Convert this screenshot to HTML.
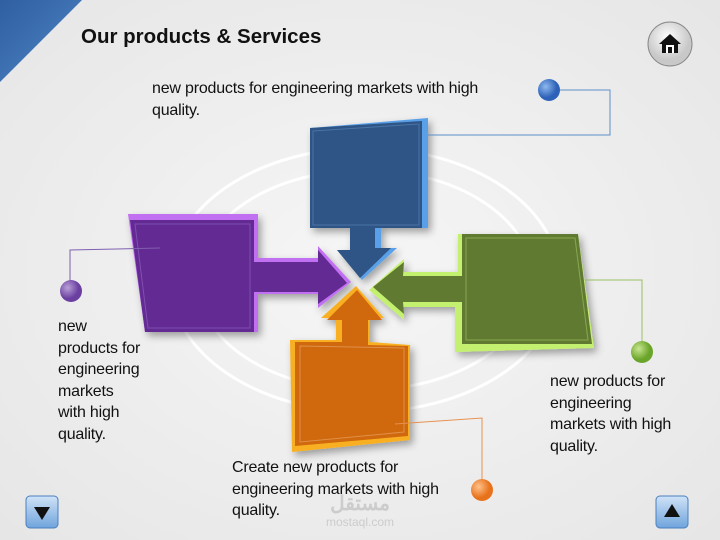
<!DOCTYPE html>
<html><head><meta charset="utf-8"><style>
body{margin:0;width:720px;height:540px;overflow:hidden;background:#efefef;font-family:"Liberation Sans",sans-serif}
.t{position:absolute;font-size:16px;line-height:21.5px;color:#111;letter-spacing:-0.2px}
</style></head><body>
<svg width="720" height="540" style="position:absolute;left:0;top:0">
<defs>
<radialGradient id="bg" cx="50%" cy="50%" r="70%"><stop offset="0" stop-color="#f6f6f6"/><stop offset="1" stop-color="#e6e6e6"/></radialGradient>
<linearGradient id="tri" x1="0" y1="0" x2="1" y2="1"><stop offset="0" stop-color="#2f5fa0"/><stop offset="1" stop-color="#4f86c6"/></linearGradient>
<radialGradient id="bb" cx="35%" cy="35%"><stop offset="0" stop-color="#8fb8ee"/><stop offset="1" stop-color="#2d62b8"/></radialGradient>
<radialGradient id="pb" cx="35%" cy="35%"><stop offset="0" stop-color="#b9a0d8"/><stop offset="1" stop-color="#6a3fa0"/></radialGradient>
<radialGradient id="gb" cx="35%" cy="35%"><stop offset="0" stop-color="#c8e690"/><stop offset="1" stop-color="#6aa52a"/></radialGradient>
<radialGradient id="ob" cx="35%" cy="35%"><stop offset="0" stop-color="#ffc28a"/><stop offset="1" stop-color="#e8721c"/></radialGradient>
<radialGradient id="hb" cx="45%" cy="35%"><stop offset="0" stop-color="#ffffff"/><stop offset="1" stop-color="#c8c8c8"/></radialGradient>
<linearGradient id="nb" x1="0" y1="0" x2="0" y2="1"><stop offset="0" stop-color="#cfe3f7"/><stop offset="1" stop-color="#6fa4dc"/></linearGradient>
<filter id="sh" x="-20%" y="-20%" width="140%" height="140%"><feDropShadow dx="3" dy="4" stdDeviation="4" flood-opacity="0.35"/></filter>
</defs>
<rect width="720" height="540" fill="url(#bg)"/>
<polygon points="0,0 82,0 0,82" fill="url(#tri)"/>
<ellipse cx="365" cy="280" rx="195" ry="132" fill="none" stroke="#fff" stroke-width="3"/>
<ellipse cx="365" cy="280" rx="168" ry="110" fill="none" stroke="#fff" stroke-width="3"/>
<!-- blue -->
<g filter="url(#sh)">
<polygon points="310,128 428,118 428,228 381,228 381,248 397,248 362,280 337,250 350,250 350,228 310,228" fill="#5aa0e8"/>
<polygon points="310,128 422,121 422,228 375,228 375,248 391,248 360,278 337,250 350,250 350,228 310,228" fill="#2f5585"/>
<polygon points="313,131 419,124 419,225 313,225" fill="none" stroke="#4a74a6" stroke-width="1"/>
</g>
<!-- purple -->
<g filter="url(#sh)">
<polygon points="128,214 258,214 258,258 318,258 318,246 351,282 318,308 318,294 258,294 258,332 145,332" fill="#c070f0"/>
<polygon points="130,220 254,220 254,262 318,262 318,250 347,283 318,304 318,292 254,292 254,332 145,332" fill="#622a92"/>
<polygon points="135,224 250,224 250,328 148,328" fill="none" stroke="#8050b0" stroke-width="1"/>
</g>
<!-- green -->
<g filter="url(#sh)">
<polygon points="458,234 578,234 594,348 455,352 455,307 403,307 404,320 369,290 404,259 403,272 458,272" fill="#c4f070"/>
<polygon points="462,234 578,234 592,344 462,344 462,302 403,302 404,314 373,287 404,262 403,276 462,276" fill="#607a30"/>
<polygon points="466,238 575,238 588,340 466,340" fill="none" stroke="#88a850" stroke-width="1"/>
</g>
<!-- orange -->
<g filter="url(#sh)">
<polygon points="290,340 336,340 336,318 321,318 356,286 384,318 370,318 370,342 410,345 410,440 292,452" fill="#f8b020"/>
<polygon points="295,342 342,342 342,320 327,320 357,290 382,320 368,320 368,345 408,346 408,436 295,446" fill="#d0680e"/>
<polygon points="300,346 404,348 404,432 300,442" fill="none" stroke="#e0904a" stroke-width="1"/>
</g>
<!-- connectors -->
<polyline points="560,90 610,90 610,135 428,135" fill="none" stroke="#5b8fc8" stroke-width="1"/>
<polyline points="70,290 70,250 160,248" fill="none" stroke="#8060b0" stroke-width="1"/>
<polyline points="642,350 642,280 585,280" fill="none" stroke="#98c060" stroke-width="1"/>
<polyline points="482,488 482,418 395,424" fill="none" stroke="#e89050" stroke-width="1"/>
<circle cx="549" cy="90" r="11" fill="url(#bb)"/>
<circle cx="71" cy="291" r="11" fill="url(#pb)"/>
<circle cx="642" cy="352" r="11" fill="url(#gb)"/>
<circle cx="482" cy="490" r="11" fill="url(#ob)"/>
<!-- home -->
<ellipse cx="670" cy="44" rx="22" ry="22" fill="url(#hb)" stroke="#888" stroke-width="1"/>
<path d="M659 44 L670 34 L681 44 L678 44 L678 53 L662 53 L662 44 Z" fill="#111"/>
<rect x="666" y="45" width="8" height="8" fill="#fff"/><rect x="668" y="47" width="4" height="6" fill="#111"/>
<!-- nav -->
<rect x="26" y="496" width="32" height="32" rx="4" fill="url(#nb)" stroke="#4a7fbf"/>
<polygon points="34,507 50,507 42,520" fill="#111"/>
<rect x="656" y="496" width="32" height="32" rx="4" fill="url(#nb)" stroke="#4a7fbf"/>
<polygon points="664,517 680,517 672,504" fill="#111"/>
<text x="360" y="510" font-size="20" font-weight="bold" fill="#ccc" text-anchor="middle" font-family="Liberation Sans">مستقل</text>
<text x="360" y="526" font-size="12" fill="#ccc" text-anchor="middle" font-family="Liberation Sans">mostaql.com</text>
</svg>
<div class="t" style="left:81px;top:26px;font-size:20.5px;font-weight:bold;letter-spacing:0">Our products &amp; Services</div>
<div class="t" style="left:152px;top:78px">new products for engineering markets with high<br>quality.</div>
<div class="t" style="left:58px;top:316px">new<br>products for<br>engineering<br>markets<br>with high<br>quality.</div>
<div class="t" style="left:550px;top:371px">new products for<br>engineering<br>markets with high<br>quality.</div>
<div class="t" style="left:232px;top:457px">Create new products for<br>engineering markets with high<br>quality.</div>
</body></html>
